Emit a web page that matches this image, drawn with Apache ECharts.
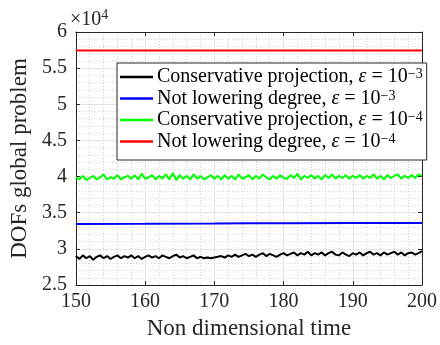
<!DOCTYPE html>
<html>
<head>
<meta charset="utf-8">
<script src="https://cdn.jsdelivr.net/npm/echarts@6/dist/echarts.min.js"></script>
<style>
  html, body { margin: 0; padding: 0; background: #fff; }
  #chart { width: 440px; height: 345px; }
</style>
</head>
<body>
<div id="chart"></div>
<script>
// time samples for the noisy series (non dimensional time)
const time = [
  150, 150.5, 151, 151.5, 152, 152.5, 153, 153.5, 154, 154.5, 155, 155.5, 156, 156.5, 157, 157.5, 158, 158.5, 159, 159.5, 160,
  160.5, 161, 161.5, 162, 162.5, 163, 163.5, 164, 164.5, 165, 165.5, 166, 166.5, 167, 167.5, 168, 168.5, 169, 169.5, 170,
  170.5, 171, 171.5, 172, 172.5, 173, 173.5, 174, 174.5, 175, 175.5, 176, 176.5, 177, 177.5, 178, 178.5, 179, 179.5, 180,
  180.5, 181, 181.5, 182, 182.5, 183, 183.5, 184, 184.5, 185, 185.5, 186, 186.5, 187, 187.5, 188, 188.5, 189, 189.5, 190,
  190.5, 191, 191.5, 192, 192.5, 193, 193.5, 194, 194.5, 195, 195.5, 196, 196.5, 197, 197.5, 198, 198.5, 199, 199.5, 200
];

// DOFs (x 10^4), conservative projection eps = 1e-3
const consProj3 = [
  2.90, 2.86, 2.91, 2.87, 2.90, 2.85, 2.89, 2.91, 2.87, 2.90, 2.86, 2.89, 2.91, 2.87, 2.90, 2.88, 2.91, 2.87, 2.90, 2.86, 2.89,
  2.91, 2.88, 2.90, 2.87, 2.91, 2.89, 2.87, 2.90, 2.92, 2.88, 2.90, 2.87, 2.89, 2.91, 2.87, 2.89, 2.87, 2.88, 2.87, 2.88,
  2.89, 2.90, 2.88, 2.91, 2.89, 2.92, 2.89, 2.91, 2.93, 2.90, 2.92, 2.89, 2.92, 2.94, 2.90, 2.93, 2.91, 2.89, 2.92, 2.94,
  2.91, 2.93, 2.95, 2.91, 2.94, 2.92, 2.96, 2.91, 2.94, 2.92, 2.95, 2.91, 2.94, 2.96, 2.92, 2.91, 2.95, 2.92, 2.90, 2.94,
  2.92, 2.95, 2.91, 2.94, 2.96, 2.92, 2.94, 2.91, 2.95, 2.92, 2.94, 2.96, 2.92, 2.95, 2.91, 2.94, 2.95, 2.92, 2.94, 2.97
];

// conservative projection eps = 1e-4
const consProj4 = [
  3.99, 3.96, 4.01, 3.95, 3.98, 4.01, 3.96, 3.99, 4.03, 3.96, 3.99, 3.97, 4.02, 3.96, 3.99, 4.01, 3.97, 4.02, 3.96, 4.04, 3.97,
  3.99, 4.02, 3.96, 4.01, 3.97, 4.03, 3.96, 4.05, 3.95, 4.02, 3.97, 4.01, 3.96, 4.03, 3.97, 4.01, 3.96, 3.99, 4.02, 3.97,
  4.01, 3.96, 4.02, 3.97, 4.01, 3.96, 4.03, 3.97, 3.99, 4.02, 3.96, 4.01, 3.97, 4.03, 3.99, 3.96, 4.01, 3.97, 4.02, 3.98,
  3.97, 4.02, 3.98, 4.04, 3.96, 4.01, 3.98, 4.02, 3.97, 4.01, 3.96, 4.02, 3.98, 4.03, 3.97, 4.01, 3.98, 4.02, 3.97, 4.01,
  3.98, 4.02, 3.97, 4.01, 3.98, 4.03, 3.97, 4.01, 3.96, 4.02, 3.98, 4.01, 4.03, 3.97, 4.01, 3.98, 4.02, 3.98, 4.03, 4.01
];

// not lowering degree: almost constant
const notLowTime3 = [150, 160, 170, 175, 180, 190, 200];
const notLow3 = [3.345, 3.347, 3.350, 3.354, 3.355, 3.357, 3.358];
const notLowTime4 = [150, 200];
const notLow4 = [5.745, 5.745];

const names = [
  'Conservative projection, ε = 10^-3',
  'Not lowering degree, ε = 10^-3',
  'Conservative projection, ε = 10^-4',
  'Not lowering degree, ε = 10^-4'
];
const colors = ['#000000', '#0000ff', '#00ff00', '#ff0000'];

const zip = (xs, ys) => xs.map((x, i) => [x, ys[i]]);
const SERIF = '"Liberation Serif", "DejaVu Serif", serif';

const chart = echarts.init(document.getElementById('chart'));

const legendLabel = (name) => {
  const m = name.match(/^(.*), ε = 10\^(-\d)$/);
  return '{r|' + m[1] + ', }{e|ε}{r| = 10}{s|' + m[2].replace('-', '−') + '}';
};

const axisCommon = {
  axisLine: { show: true, lineStyle: { color: '#262626', width: 1 } },
  axisTick: { show: true, inside: true, length: 4, lineStyle: { color: '#262626' } }
};

const option = {
  animation: false,
  backgroundColor: '#fff',
  grid: { left: 69, right: 16, top: 32, bottom: 50 },
  xAxis: [
    {
      type: 'value', min: 150, max: 200, interval: 10,
      ...axisCommon,
      axisLabel: { color: '#262626', fontFamily: SERIF, fontSize: 20, margin: 7 },
      splitLine: { show: true, lineStyle: { color: '#e3e3e3', width: 1 } },
      minorTick: { show: false, splitNumber: 5 },
      minorSplitLine: { show: true, lineStyle: { color: '#d2d2d2', width: 1, type: [1, 2] } },
      name: 'Non dimensional time', nameLocation: 'middle', nameGap: 32,
      nameTextStyle: { color: '#262626', fontFamily: SERIF, fontSize: 23 }
    },
    {
      type: 'value', min: 150, max: 200, interval: 10, position: 'top',
      ...axisCommon,
      axisLabel: { show: false }, splitLine: { show: false }
    }
  ],
  yAxis: [
    {
      type: 'value', min: 2.5, max: 6, interval: 0.5,
      ...axisCommon,
      axisLabel: { color: '#262626', fontFamily: SERIF, fontSize: 20, margin: 9 },
      splitLine: { show: true, lineStyle: { color: '#e3e3e3', width: 1 } },
      minorTick: { show: false, splitNumber: 5 },
      minorSplitLine: { show: true, lineStyle: { color: '#d2d2d2', width: 1, type: [1, 2] } },
      name: 'DOFs global problem', nameLocation: 'middle', nameGap: 36, nameRotate: 90,
      nameTextStyle: { color: '#262626', fontFamily: SERIF, fontSize: 23 }
    },
    {
      type: 'value', min: 2.5, max: 6, interval: 0.5, position: 'right',
      ...axisCommon,
      axisLabel: { show: false }, splitLine: { show: false }
    }
  ],
  legend: {
    orient: 'vertical',
    left: 117, top: 63,
    data: names,
    icon: 'rect',
    backgroundColor: '#fff',
    borderColor: '#262626', borderWidth: 1,
    padding: [4, 4, 7, 3],
    itemWidth: 33, itemHeight: 2.5, itemGap: 0,
    formatter: legendLabel,
    textStyle: {
      color: '#000',
      padding: [0, 0, 0, -1],
      rich: {
        r: { fontFamily: SERIF, fontSize: 20, color: '#000', lineHeight: 19 },
        e: { fontFamily: SERIF, fontSize: 20, fontStyle: 'italic', color: '#000', lineHeight: 19 },
        s: { fontFamily: SERIF, fontSize: 14, color: '#000', verticalAlign: 'top', lineHeight: 19, padding: [0, 0, 7, 0] }
      }
    }
  },
  graphic: [
    {
      type: 'text', left: 70, top: 8,
      style: {
        text: '{m|×10}{p|4}',
        rich: {
          m: { fontFamily: SERIF, fontSize: 20, fill: '#262626' },
          p: { fontFamily: SERIF, fontSize: 14, fill: '#262626', padding: [0, 0, 10, 0] }
        }
      }
    }
  ],
  series: [
    { name: names[0], type: 'line', symbol: 'none', data: zip(time, consProj3), lineStyle: { color: colors[0], width: 2 }, itemStyle: { color: colors[0] } },
    { name: names[1], type: 'line', symbol: 'none', data: zip(notLowTime3, notLow3), lineStyle: { color: colors[1], width: 2 }, itemStyle: { color: colors[1] } },
    { name: names[2], type: 'line', symbol: 'none', data: zip(time, consProj4), lineStyle: { color: colors[2], width: 2 }, itemStyle: { color: colors[2] } },
    { name: names[3], type: 'line', symbol: 'none', data: zip(notLowTime4, notLow4), lineStyle: { color: colors[3], width: 2 }, itemStyle: { color: colors[3] } }
  ]
};

chart.setOption(option);
</script>
</body>
</html>
